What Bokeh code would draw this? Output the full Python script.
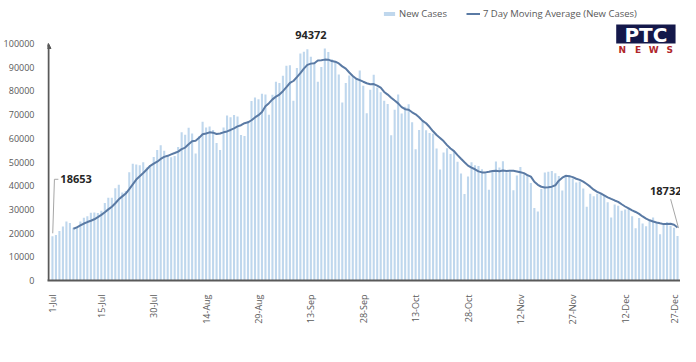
import math
import pandas as pd
from bokeh.plotting import figure
from bokeh.models import (ColumnDataSource, FixedTicker, Legend, LegendItem,
                          Range1d, Arrow, NormalHead, NumeralTickFormatter)
from bokeh.core.properties import value
from bokeh.embed import file_html
from bokeh.resources import INLINE

# ---------------- data (daily new cases, 1-Jul .. 27-Dec) ----------------
jul = [18653, 19148, 20903, 22771, 24850, 24248, 22252, 22752, 24879, 26506,
       27114, 28637, 28701, 28498, 29429, 32695, 34956, 34884, 38902, 40425,
       37148, 37724, 45720, 49310, 48916, 48661, 49931, 47703, 48513, 52123,
       55079]
aug = [57118, 54735, 52972, 52050, 52509, 56282, 62538, 61537, 64399, 62064,
       53601, 60963, 66999, 64553, 65002, 63490, 57982, 55079, 64531, 69652,
       68898, 69878, 69239, 61408, 60975, 67151, 75760, 77266, 76472, 78761,
       78512]
sep = [69921, 78357, 83883, 83341, 86432, 90632, 90802, 75809, 89706, 95735,
       96551, 97570, 94372, 92071, 83809, 90123, 97894, 96424, 93337, 92605,
       86961, 75083, 83347, 86508, 86052, 85362, 88600, 82170, 70589, 80472]
oct_ = [86821, 81484, 79476, 75829, 74442, 61267, 72049, 78524, 70496, 73272,
        74383, 66732, 55342, 63509, 67708, 63371, 62212, 61871, 55722, 46790,
        54044, 55839, 53370, 54366, 50129, 45148, 36469, 43893, 49881, 48648,
        48268]
nov = [46963, 45231, 38310, 46253, 50210, 47638, 50357, 45674, 45903, 38073,
       44281, 47905, 44878, 44684, 41100, 30548, 29164, 38617, 45576, 45882,
       46232, 45209, 44059, 37975, 44376, 44489, 43082, 41322, 41810, 38772]
dec = [31118, 36604, 35551, 36595, 36652, 36011, 32981, 26567, 32080, 31521,
       29398, 30006, 30254, 27071, 22065, 26382, 24010, 22890, 25153, 26624,
       24337, 19556, 23950, 24712, 23067, 22273, 18732]

tick_days = [0, 14, 29, 44, 59, 74, 89, 104, 119, 134, 149, 164, 179]
tick_labels = ["1-Jul", "15-Jul", "30-Jul", "14-Aug", "29-Aug", "13-Sep",
               "28-Sep", "13-Oct", "28-Oct", "12-Nov", "27-Nov", "12-Dec",
               "27-Dec"]
y_ticks = list(range(0, 100001, 10000))

start_idx, peak_idx, end_idx = 0, 74, 179   # annotated days

cases = jul + aug + sep + oct_ + nov + dec
days = list(range(len(cases)))
ma7 = pd.Series(cases, dtype=float).rolling(7).mean().tolist()

# ---------------- layout geometry ----------------
W = 680
FL, FT, FB = 40, 8, 74     # left / top / bottom borders
FW, FH = W - FL, 272       # frame size
H = FT + FH + FB
PPX = (677 - 45) / 179.0   # px per day
PPY = 237 / 100000.0       # px per case
X0 = -5 / PPX
X1 = X0 + FW / PPX
Y1 = FH / PPY

def cx(px):   # frame x -> data
    return X0 + (px - FL) / PPX

def cy(py):   # frame y -> data
    return (FH - py) / PPY

def dx(px):
    return px / PPX

def dy(px):
    return px / PPY

GRAY = "#595959"
BAR = "#bfd7ed"
LINE = "#5a7aa4"
FONT = "Open Sans"

p = figure(width=W, height=H, output_backend="svg", toolbar_location=None,
           title=None, x_range=Range1d(X0, X1), y_range=Range1d(0, Y1),
           min_border_left=FL, min_border_right=0, min_border_top=FT,
           min_border_bottom=FB)
p.outline_line_color = None
p.xgrid.visible = False
p.ygrid.visible = False
p.background_fill_color = "white"
p.border_fill_color = "white"

src = ColumnDataSource(dict(day=days, cases=cases, ma=ma7))
bars = p.vbar(x="day", top="cases", width=0.6, source=src,
              fill_color=BAR, line_color=None)
line = p.line(x="day", y="ma", source=src, line_color=LINE, line_width=2)

# axes
xa = p.xaxis[0]
xa.ticker = FixedTicker(ticks=tick_days)
xa.major_label_overrides = {d: l for d, l in zip(tick_days, tick_labels)}
xa.major_label_orientation = math.pi / 2
xa.major_tick_line_color = None
xa.minor_tick_line_color = None
xa.axis_line_color = GRAY
xa.axis_line_width = 2
xa.major_label_text_font = FONT
xa.major_label_text_font_size = "9px"
xa.major_label_text_color = GRAY
xa.major_label_standoff = 8

ya = p.yaxis[0]
ya.ticker = FixedTicker(ticks=y_ticks)
ya.formatter = NumeralTickFormatter(format="0")
ya.major_tick_line_color = None
ya.minor_tick_line_color = None
ya.axis_line_color = None
ya.major_label_text_font = FONT
ya.major_label_text_font_size = "9px"
ya.major_label_text_color = GRAY
ya.major_label_standoff = 7

# y-axis line with small arrow head
p.add_layout(Arrow(x_start=X0 + dx(1), y_start=0, x_end=X0 + dx(1), y_end=y_ticks[-1],
                   line_color=GRAY, line_width=2,
                   end=NormalHead(size=5, line_color=GRAY, fill_color=GRAY)))

# legend
legend = Legend(items=[LegendItem(label="New Cases", renderers=[bars]),
                       LegendItem(label="7 Day Moving Average (New Cases)", renderers=[line])],
                orientation="horizontal", location=(335, 260),
                label_text_font=FONT, label_text_font_size="9.5px",
                label_text_color=GRAY, glyph_width=14, glyph_height=5,
                label_height=10, label_standoff=3, spacing=19, padding=0,
                margin=0, border_line_color=None, background_fill_alpha=0)
p.add_layout(legend)

# annotations
v0, vp, ve = cases[start_idx], cases[peak_idx], cases[end_idx]
ann = ColumnDataSource(dict(
    x=[start_idx + dx(8), peak_idx, end_idx + dx(4)],
    y=[v0 + dy(57), vp + dy(22), ve + dy(45)],
    t=[str(v0), str(vp), str(ve)],
    a=["left", "center", "right"]))
p.text(x="x", y="y", text="t", text_align="a", source=ann,
       text_baseline="middle", text_font=value(FONT), text_font_style="bold",
       text_font_size="11px", text_color="#262626")

p.line([start_idx + dx(0.3), start_idx + dx(2), start_idx + dx(6)],
       [v0 + dy(3), v0 + dy(57), v0 + dy(57)], line_color="#a6a6a6", line_width=1)
p.line([end_idx - dx(7), end_idx + dx(1)], [ve + dy(37), ve + dy(8)],
       line_color="#a6a6a6", line_width=1)

# PTC NEWS logo
p.quad(left=[cx(615)], right=[cx(675)], top=[cy(16)], bottom=[cy(35)],
       fill_color="#14184a", line_color=None)
p.text(x=[cx(645)], y=[cy(26)], text=["PTC"], text_align="center",
       text_baseline="middle", text_font=value("DejaVu Sans"),
       text_font_style="bold", text_font_size="20px", text_color="white")
p.text(x=[cx(621), cx(637), cx(653), cx(669)], y=[cy(41)] * 4,
       text=["N", "E", "W", "S"], text_align="center", text_baseline="middle",
       text_font=value("DejaVu Sans"), text_font_style="bold",
       text_font_size="9px", text_color="#b0262b")

open("out.html", "w").write(file_html(p, INLINE))
